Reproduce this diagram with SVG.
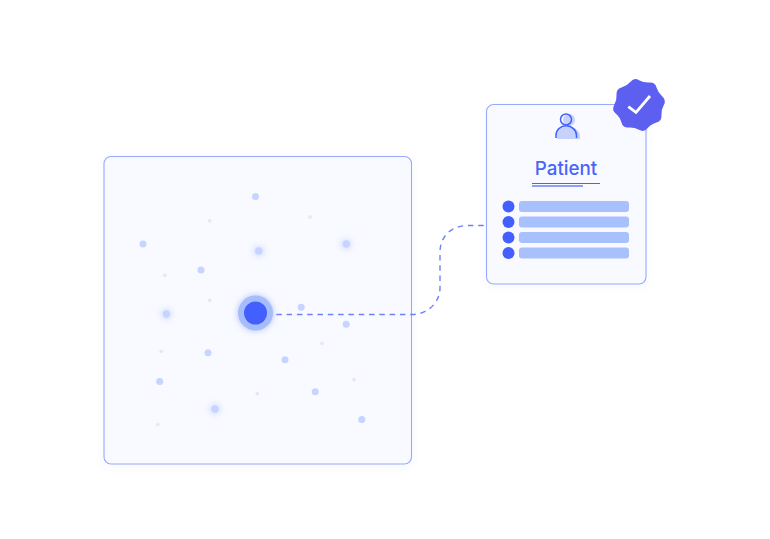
<svg xmlns="http://www.w3.org/2000/svg" width="770" height="539" viewBox="0 0 770 539">
<defs>
<filter id="soft" x="-20%" y="-20%" width="140%" height="140%"><feDropShadow dx="0" dy="2" stdDeviation="4" flood-color="#4360ff" flood-opacity="0.05"/></filter>
<filter id="glow" x="-150%" y="-150%" width="400%" height="400%"><feGaussianBlur stdDeviation="3"/></filter>
</defs>
<style>
.panel{fill:#f9faff;stroke:#98aafc;stroke-width:1.100;filter:url(#soft)}
.d{fill:#c6d5ff}
.g{fill:#c6d5ff;opacity:.75;filter:url(#glow)}
.s{fill:#e7e9f1}
.row{fill:#4360ff}
.bar{fill:#a8c0fc}
.ink{fill:none;stroke:#4360ff;stroke-width:1.500}
</style>
<rect width="770" height="539" fill="#ffffff"/>
<g id="map">
<rect class="panel" x="104" y="156.500" width="307.500" height="307.500" rx="7"/>
<circle class="d" cx="255.500" cy="196.500" r="3.500"/>
<circle class="d" cx="143" cy="244" r="3.500"/>
<circle class="d" cx="201" cy="270" r="3.500"/>
<circle class="d" cx="301.200" cy="307.200" r="3.500"/>
<circle class="d" cx="346.200" cy="324.200" r="3.500"/>
<circle class="d" cx="208" cy="352.800" r="3.500"/>
<circle class="d" cx="285" cy="359.800" r="3.500"/>
<circle class="d" cx="159.700" cy="381.400" r="3.500"/>
<circle class="d" cx="315.200" cy="391.800" r="3.500"/>
<circle class="d" cx="361.800" cy="419.400" r="3.500"/>
<circle class="g" cx="258.700" cy="251" r="5.500"/><circle class="d" cx="258.700" cy="251" r="3.700"/>
<circle class="g" cx="346.300" cy="244" r="5.500"/><circle class="d" cx="346.300" cy="244" r="3.700"/>
<circle class="g" cx="166.400" cy="314" r="5.500"/><circle class="d" cx="166.400" cy="314" r="3.700"/>
<circle class="g" cx="215" cy="409" r="5.500"/><circle class="d" cx="215" cy="409" r="3.700"/>
<circle class="s" cx="209.700" cy="220.700" r="1.900"/>
<circle class="s" cx="310" cy="217" r="1.900"/>
<circle class="s" cx="164.800" cy="275.300" r="1.900"/>
<circle class="s" cx="209.700" cy="300.300" r="1.900"/>
<circle class="s" cx="161.300" cy="351.300" r="1.900"/>
<circle class="s" cx="322" cy="343.300" r="1.900"/>
<circle class="s" cx="354" cy="379.700" r="1.900"/>
<circle class="s" cx="257.300" cy="393.700" r="1.900"/>
<circle class="s" cx="157.800" cy="424.600" r="1.900"/>
</g>
<g id="connectors">
<path d="M266 314.500H412C428 314.500 440 302 440 288V252C440 236 452 225.500 468 225.500H488" fill="none" stroke="#6f80f8" stroke-width="1.400" stroke-dasharray="5.500 4.800"/>
</g>
<g id="focus">
<circle cx="255.500" cy="313" r="18" fill="#a6bdfc" filter="url(#glow)" opacity=".8"/>
<circle cx="255.500" cy="313" r="17.500" fill="#a6bdfd"/>
<circle cx="255.500" cy="313" r="11.500" fill="#4360ff"/>
</g>
<g id="card">
<rect class="panel" x="486.500" y="104.500" width="159.500" height="179.500" rx="7"/>
<g id="avatar">
<circle cx="569" cy="120" r="6" fill="#c6d2fb"/>
<path d="M557 139V136C557 131 562 126.500 568 126.500S580 131 580 136V139Z" fill="#c6d2fb"/>
<circle class="ink" cx="566" cy="119.500" r="5.500"/>
<path class="ink" d="M556 138V135.500C556 130 560.500 125.800 566.200 125.800S576.500 130 576.500 135.500V138"/>
</g>
<text x="566" y="175" text-anchor="middle" font-family="Inter, 'Liberation Sans', sans-serif" font-size="18.800" font-weight="500" fill="#4a64f6">Patient</text>
<path d="M532 183.500H600" stroke="#4a64f6" stroke-width="1" fill="none"/>
<path d="M532 186H583" stroke="#4a64f6" stroke-width="1.500" fill="none" opacity=".8"/>
<circle class="row" cx="508.500" cy="206.500" r="6"/><rect class="bar" x="519" y="201" width="110" height="11" rx="3"/>
<circle class="row" cx="508.500" cy="222" r="6"/><rect class="bar" x="519" y="216.500" width="110" height="11" rx="3"/>
<circle class="row" cx="508.500" cy="237.500" r="6"/><rect class="bar" x="519" y="232" width="110" height="11" rx="3"/>
<circle class="row" cx="508.500" cy="253" r="6"/><rect class="bar" x="519" y="247.500" width="110" height="11" rx="3"/>
</g>
<g id="badge">
<path d="M630.500 81.700Q634.100 77.400 639 80.200Q643.900 83 649.500 82.550Q655.100 82.100 656.550 87.500Q658 92.900 662.300 96.500Q666.600 100.100 663.800 105Q661 109.900 661.450 115.500Q661.900 121.100 656.500 122.550Q651.100 124 647.500 128.300Q643.900 132.600 639 129.800Q634.100 127 628.500 127.450Q622.900 127.900 621.450 122.500Q620 117.100 615.700 113.500Q611.400 109.900 614.200 105Q617 100.100 616.550 94.500Q616.100 88.900 621.500 87.450Q626.900 86 630.500 81.700Z" fill="#5c5ff0"/>
<path d="M628.300 106.700L636 112.300L650 96" fill="none" stroke="#ffffff" stroke-width="2.800"/>
</g>
</svg>
